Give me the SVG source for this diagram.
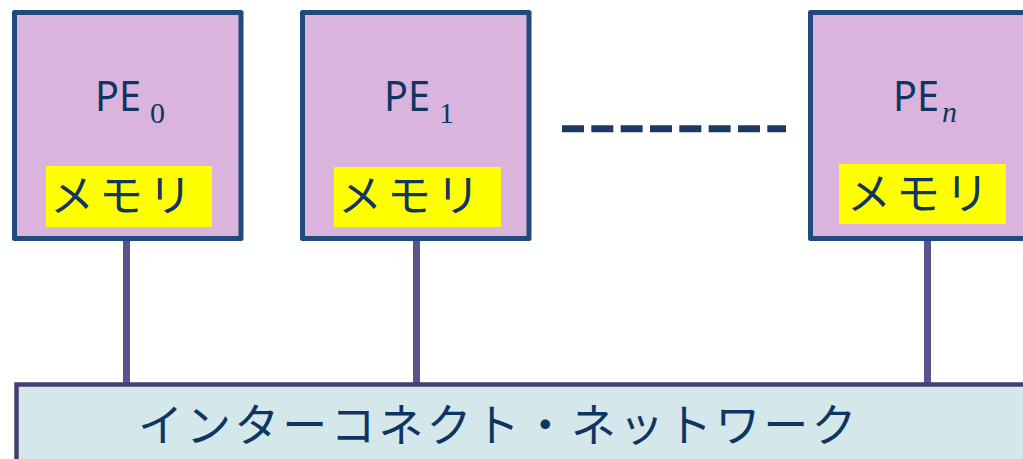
<svg xmlns="http://www.w3.org/2000/svg" width="1023" height="459" viewBox="0 0 1023 459">
<style>
.pe{fill:#dab4dc;stroke:#204a7c;stroke-width:5;stroke-linejoin:round}
.mem{fill:#ffff00}
.lbl{font-family:"Noto Sans","Noto Sans CJK JP",sans-serif;font-size:42px;fill:#0f3563}
.sub{font-family:"Liberation Serif",serif;font-size:30px;fill:#0f3563}
.jp{font-family:"Noto Sans CJK JP",sans-serif;font-size:44px;fill:#0f3563;letter-spacing:5px}
.conn{stroke:#575490;stroke-width:7;fill:none}
</style>
<rect x="0" y="0" width="1023" height="459" fill="#ffffff"/>
<g id="connectors">
<line class="conn" x1="126.5" y1="238" x2="126.5" y2="384"/>
<line class="conn" x1="416.5" y1="238" x2="416.5" y2="384"/>
<line class="conn" x1="927.5" y1="238" x2="927.5" y2="384"/>
<line x1="562" y1="128.7" x2="786" y2="128.7" stroke="#1d3a64" stroke-width="7" stroke-dasharray="22 7.33"/>
</g>
<g id="interconnect">
<rect x="16.5" y="384.5" width="1020" height="90" fill="#d4e8ec" stroke="#443f6e" stroke-width="4.5"/>
<text x="138" y="442" font-family="'Noto Sans CJK JP',sans-serif" font-size="45" fill="#0f3563" letter-spacing="3.1">インターコネクト・ネットワーク</text>
</g>
<g id="pe0">
<rect class="pe" x="14.5" y="12.5" width="226.5" height="226"/>
<text class="lbl" x="95" y="111" textLength="46" lengthAdjust="spacingAndGlyphs">PE</text>
<text class="sub" x="150" y="123">0</text>
<rect class="mem" x="46" y="166" width="166" height="61"/>
<text class="jp" x="50" y="212">メモリ</text>
</g>
<g id="pe1">
<rect class="pe" x="302.5" y="12.5" width="226.5" height="226"/>
<text class="lbl" x="384" y="111" textLength="46" lengthAdjust="spacingAndGlyphs">PE</text>
<text class="sub" x="439" y="123">1</text>
<rect class="mem" x="334" y="167" width="167" height="60"/>
<text class="jp" x="338" y="212">メモリ</text>
</g>
<g id="pen">
<rect class="pe" x="810.5" y="12.5" width="240" height="226"/>
<text class="lbl" x="893" y="111" textLength="46" lengthAdjust="spacingAndGlyphs">PE</text>
<text class="sub" x="942" y="122" font-style="italic">n</text>
<rect class="mem" x="839" y="164" width="167" height="60"/>
<text class="jp" x="847" y="210">メモリ</text>
</g>
</svg>
